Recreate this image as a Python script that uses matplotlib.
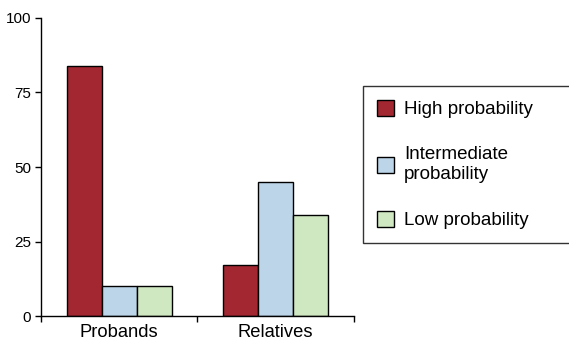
import matplotlib.pyplot as plt
import numpy as np

plt.rcParams['font.family'] = ['Liberation Sans', 'DejaVu Sans']

groups = ["Probands", "Relatives"]
series = ["High probability", "Intermediate\nprobability", "Low probability"]
high = [84, 17]
intermediate = [10, 45]
low = [10, 34]
colours = ["#A32731", "#BDD5E8", "#D0E8C1"]

fig = plt.figure(figsize=(5.69, 3.44), dpi=100)
ax = fig.add_axes([0.072, 0.081, 0.55, 0.867])

x = np.arange(len(groups))
w = 0.224
for i, (vals, lab) in enumerate(zip([high, intermediate, low], series)):
    ax.bar(x + (i - 1) * w, vals, w, color=colours[i], edgecolor="black",
           linewidth=1, label=lab)

ax.set_xlim(-0.5, 1.5)
ax.set_ylim(0, 100)
ax.set_yticks([0, 25, 50, 75, 100])
ax.set_xticks(x)
ax.set_xticklabels(groups, fontsize=13.2)
ax.set_xticks([-0.5, 0.5, 1.5], minor=True)
ax.tick_params(axis="x", which="major", length=0, pad=6)
ax.tick_params(axis="x", which="minor", length=4, width=1)
ax.tick_params(axis="y", length=4.5, width=1, labelsize=11, pad=2.5)
for s in ["top", "right"]:
    ax.spines[s].set_visible(False)
for s in ["left", "bottom"]:
    ax.spines[s].set_linewidth(1)

leg = fig.legend(loc="upper left", bbox_to_anchor=(0.638, 0.294, 0.40, 0.456),
                 mode="expand", fontsize=13.5,
                 frameon=True, fancybox=False, edgecolor="black",
                 handlelength=0.9, handleheight=0.9, labelspacing=1.5,
                 borderpad=0.75, handletextpad=0.55, borderaxespad=0)
leg.get_frame().set_linewidth(1)

fig.savefig("out.png", dpi=100)
